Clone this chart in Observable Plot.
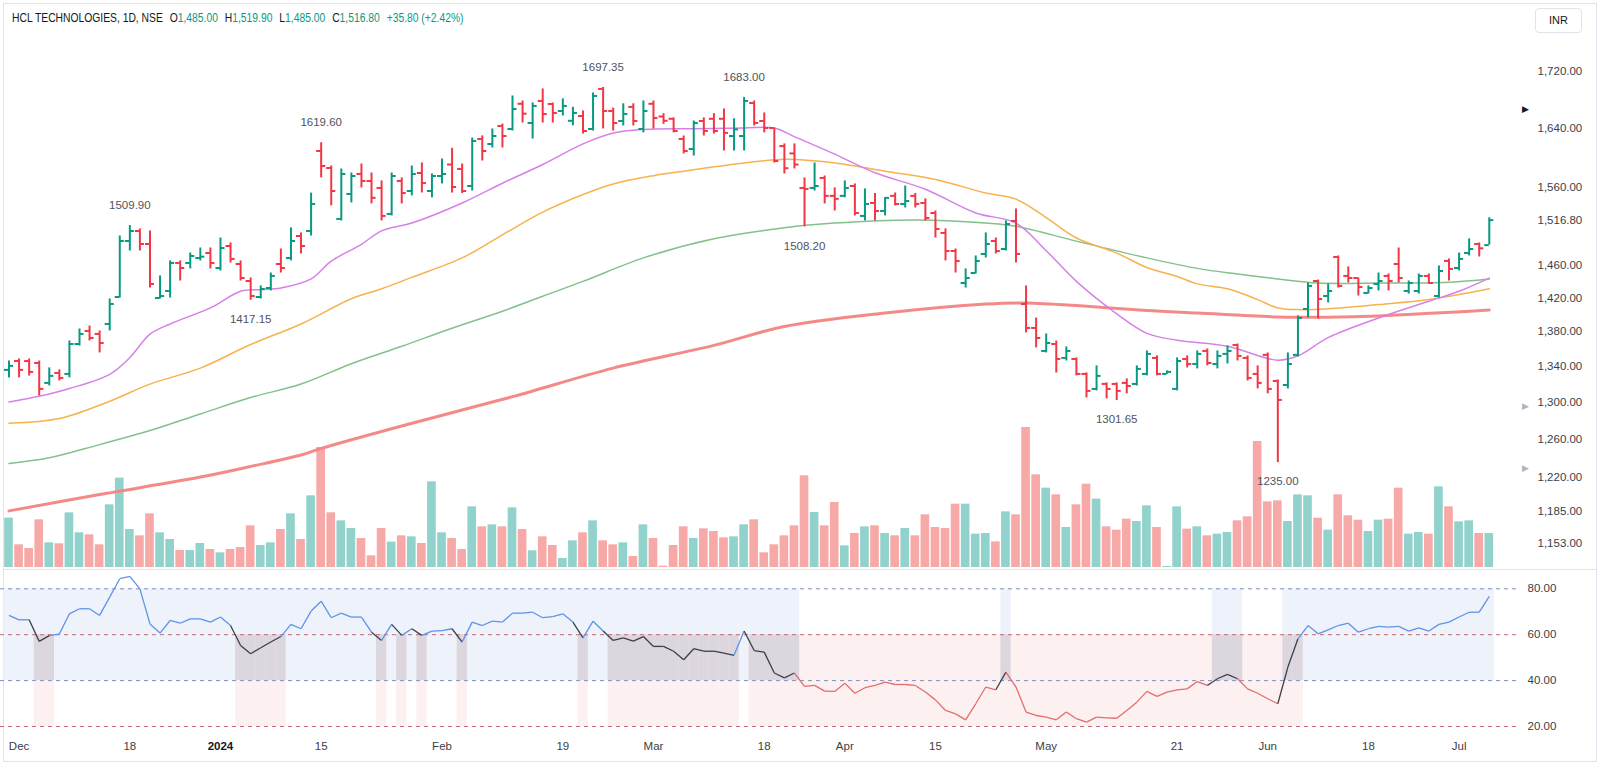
<!DOCTYPE html>
<html>
<head>
<meta charset="utf-8">
<title>HCL Technologies 1D NSE</title>
<script src="https://cdn.jsdelivr.net/npm/d3@7"></script>
<script src="https://cdn.jsdelivr.net/npm/@observablehq/plot@0.6"></script>
<style>
  html, body { margin: 0; padding: 0; background: #ffffff; }
  #wrap { position: relative; width: 1600px; height: 767px; overflow: hidden; background: #fff;
          font-family: "Liberation Sans", Arial, sans-serif; }
  #wrap > svg { position: absolute; left: 0; }
  #frame { position: absolute; left: 3px; top: 3px; width: 1594px; height: 759px; box-sizing: border-box;
           border: 1px solid #e0e3eb; pointer-events: none; }
  #sep { position: absolute; left: 3px; top: 569px; width: 1594px; height: 1px; background: #e0e3eb; }
  #hdr { position: absolute; left: 12px; top: 11px; font-family: "Liberation Sans", Arial, sans-serif;
         font-size: 12px; color: #131722; white-space: nowrap; transform: scaleX(0.86); transform-origin: 0 50%; }
  #hdr .v { color: #089981; }
  #hdr .g { margin-left: 8px; }
  #inr { position: absolute; left: 1535px; top: 8px; width: 47px; height: 25px; box-sizing: border-box;
         border: 1px solid #e0e3eb; border-radius: 4px; font-size: 11px; color: #131722; text-align: center; line-height: 23px; }
</style>
</head>
<body>
<div id="wrap">
  <div id="frame"></div>
  <div id="sep"></div>
  <div id="hdr"></div>
  <div id="inr">INR</div>
</div>
<script>
// ---- Data: bar index 0 = 30 Nov 2023 ... index 147 = last bar (Jul 2024) ----
const opens = [
1336.0,1346.1,1346.0,1343.8,1321.3,1332.5,1331.4,1365.6,1380.8,1377.3,
1389.0,1421.1,1490.2,1502.9,1486.4,1419.9,1428.4,1462.7,1462.7,1468.9,
1475.1,1456.5,1483.9,1461.4,1440.5,1421.1,1432.0,1461.4,1468.9,1496.5,
1502.9,1608.3,1585.3,1518.3,1550.8,1577.3,1568.0,1558.7,1524.8,1568.0,
1554.7,1578.6,1554.7,1574.6,1590.0,1584.0,1561.3,1624.8,1617.9,1642.7,
1638.6,1674.0,1646.9,1678.0,1673.7,1663.8,1650.0,1656.7,1638.6,1695.2,
1663.8,1649.7,1669.5,1638.6,1674.0,1656.0,1652.8,1624.8,1611.0,1649.7,
1652.8,1652.8,1628.9,1628.9,1675.1,1649.7,1640.0,1615.0,1605.0,1558.7,
1558.7,1572.0,1548.3,1548.3,1561.3,1522.2,1539.0,1528.6,1548.3,1537.7,
1548.3,1539.0,1526.0,1500.4,1477.6,1438.1,1450.3,1473.9,1490.2,1480.1,
1515.7,1412.7,1384.3,1357.6,1365.6,1349.6,1348.4,1331.4,1314.6,1320.2,
1320.2,1321.3,1320.2,1331.4,1349.6,1331.4,1314.6,1348.4,1342.7,1357.6,
1342.7,1354.2,1364.5,1349.6,1331.4,1353.1,1323.5,1319.0,1353.1,1406.8,
1440.5,1422.3,1470.1,1446.7,1444.2,1426.0,1436.9,1446.7,1461.4,1428.4,
1428.4,1446.7,1422.3,1465.2,1456.5,1475.1,1486.4,1485.0];
const highs = [
1346.1,1348.4,1348.4,1346.0,1338.2,1336.0,1369.1,1383.1,1386.6,1380.8,
1418.7,1496.5,1509.9,1505.5,1502.9,1446.7,1465.2,1465.2,1475.1,1481.4,
1481.4,1494.0,1487.7,1465.2,1444.2,1434.5,1450.3,1480.1,1506.8,1500.4,
1551.9,1619.6,1588.0,1584.0,1578.6,1590.7,1578.6,1568.0,1578.6,1572.0,
1588.0,1592.0,1577.3,1597.4,1612.0,1590.7,1626.1,1629.0,1638.6,1645.5,
1685.1,1678.0,1675.1,1695.2,1675.1,1680.9,1669.0,1663.8,1689.4,1697.35,
1667.9,1674.0,1674.0,1678.0,1678.0,1660.0,1654.1,1628.9,1649.7,1654.1,
1660.0,1666.6,1652.8,1683.0,1678.0,1661.0,1640.0,1618.0,1618.0,1572.0,
1592.0,1574.6,1558.7,1568.0,1564.0,1557.4,1551.4,1545.7,1552.1,1561.3,
1551.4,1544.4,1528.6,1505.5,1480.1,1455.3,1471.4,1500.4,1494.0,1515.7,
1531.2,1434.5,1396.0,1377.3,1369.1,1362.2,1349.6,1332.5,1340.5,1321.3,
1321.3,1325.8,1340.5,1357.6,1351.9,1334.8,1349.6,1351.9,1357.6,1359.9,
1357.6,1363.3,1365.6,1351.9,1340.5,1355.3,1324.7,1355.3,1398.5,1438.1,
1441.7,1436.9,1471.4,1457.8,1444.2,1434.5,1450.3,1449.1,1481.4,1440.5,
1449.1,1449.1,1459.0,1467.7,1475.1,1492.8,1487.7,1519.9];
const lows = [
1326.9,1326.9,1329.0,1306.8,1317.9,1323.5,1327.0,1363.3,1369.1,1355.3,
1380.8,1419.9,1477.6,1477.6,1432.0,1418.7,1419.9,1440.5,1455.3,1465.2,
1455.3,1452.8,1462.7,1440.5,1417.15,1418.7,1428.4,1450.3,1465.2,1473.9,
1496.5,1572.0,1535.2,1515.7,1539.0,1558.7,1537.7,1515.7,1522.2,1537.7,
1548.3,1552.1,1545.7,1564.0,1552.0,1551.4,1554.7,1594.7,1612.4,1612.4,
1635.8,1646.9,1624.7,1646.9,1646.9,1656.7,1643.0,1631.6,1635.8,1638.6,
1635.8,1642.8,1642.8,1633.2,1638.6,1645.0,1633.2,1604.2,1601.5,1628.9,
1631.6,1608.3,1608.3,1608.3,1642.8,1633.2,1592.0,1577.3,1584.0,1508.2,
1554.7,1537.7,1528.6,1545.7,1522.2,1515.7,1515.7,1522.2,1535.1,1532.5,
1532.5,1515.7,1494.0,1465.2,1450.3,1432.0,1449.1,1468.9,1473.9,1477.6,
1462.7,1378.5,1361.1,1355.3,1332.5,1346.1,1329.2,1304.6,1312.4,1303.5,
1301.65,1309.1,1317.9,1329.2,1329.2,1331.0,1312.4,1338.2,1337.1,1340.5,
1337.1,1342.7,1346.1,1323.5,1314.6,1309.1,1235.0,1314.6,1350.7,1396.1,
1394.9,1413.9,1432.0,1438.1,1422.3,1424.7,1428.4,1428.4,1438.1,1424.7,
1424.7,1436.9,1419.9,1440.5,1452.8,1471.4,1470.1,1485.0];
const closes = [
1340.5,1336.0,1333.7,1314.6,1329.2,1326.9,1365.6,1377.3,1372.6,1366.8,
1412.7,1490.2,1502.9,1486.4,1436.9,1422.3,1462.7,1456.5,1471.4,1470.5,
1462.7,1481.4,1467.7,1444.2,1422.3,1430.8,1446.7,1456.5,1490.2,1483.9,
1537.7,1588.0,1554.7,1577.3,1574.6,1568.0,1545.7,1522.2,1574.6,1552.1,
1577.3,1565.3,1574.6,1577.3,1560.0,1554.7,1622.0,1608.3,1628.9,1628.9,
1666.6,1660.0,1670.9,1659.5,1661.0,1670.9,1661.0,1635.8,1685.1,1663.8,
1646.9,1659.6,1649.7,1663.8,1654.0,1650.0,1635.8,1608.3,1646.9,1635.8,
1635.8,1633.2,1638.0,1678.0,1646.9,1640.0,1594.7,1585.0,1590.0,1557.4,
1561.3,1548.3,1544.4,1558.7,1526.0,1537.7,1528.6,1545.7,1537.7,1541.6,
1537.7,1519.6,1505.5,1477.6,1465.2,1444.2,1465.2,1486.4,1477.6,1511.8,
1473.9,1384.3,1372.6,1366.8,1348.4,1357.6,1331.4,1312.4,1329.2,1314.6,
1312.4,1317.9,1337.1,1354.2,1331.4,1333.7,1346.1,1342.7,1354.2,1343.8,
1351.9,1357.6,1351.9,1326.9,1321.3,1314.6,1302.4,1342.7,1396.1,1434.5,
1418.7,1428.4,1434.5,1444.2,1433.2,1432.0,1440.5,1440.5,1444.2,1438.1,
1446.7,1438.1,1452.8,1455.3,1467.7,1480.1,1481.0,1516.8];
// volume, millions of shares
const volumes = [
2.96,1.36,1.14,2.86,1.48,1.42,3.28,2.08,1.96,1.36,
3.76,5.36,2.28,1.90,3.22,2.08,1.68,1.02,1.02,1.44,
1.08,0.88,1.08,1.20,2.50,1.32,1.48,2.28,3.22,1.68,
4.30,7.20,3.28,2.80,2.34,1.74,0.70,2.34,1.52,1.90,
1.84,1.44,5.14,2.08,1.74,1.08,3.64,2.44,2.56,2.44,
3.58,2.28,1.00,1.84,1.32,0.54,1.60,2.08,2.80,1.60,
1.36,1.48,0.66,2.56,1.74,0.08,1.32,2.44,1.74,2.32,
2.16,1.78,1.84,2.56,2.86,0.88,1.36,1.90,2.50,5.50,
3.30,2.50,3.90,1.30,2.04,2.44,2.50,2.04,1.90,2.34,
1.90,3.16,2.40,2.34,3.80,3.80,2.00,2.04,1.54,3.34,
3.16,8.40,5.56,4.76,4.36,2.40,3.76,5.00,4.10,2.44,
2.24,2.90,2.76,3.70,2.40,0.06,3.64,2.30,2.44,1.90,
2.00,2.10,2.80,3.04,7.56,3.94,4.00,2.76,4.36,4.30,
2.96,2.24,4.36,3.10,2.84,2.16,2.84,2.90,4.76,2.00,
2.10,2.00,4.84,3.64,2.74,2.80,2.04,2.04];
const rsi = [
68.4,66.5,66.5,57.1,59.6,60.3,69.1,71.3,71.3,68.4,
76.4,84.4,85.4,80.0,64.7,60.7,66.2,65.0,66.9,66.9,
65.5,67.7,64.0,55.3,51.7,54.3,56.8,59.2,64.5,62.6,
70.3,74.6,67.4,69.4,67.7,67.7,61.1,57.5,64.5,59.7,
62.6,59.7,61.6,61.8,62.6,56.8,65.5,64.0,65.9,65.5,
69.4,69.4,69.8,67.4,67.9,69.1,65.5,58.6,65.9,61.6,
57.5,58.6,57.2,59.2,54.9,54.9,52.8,49.1,53.9,52.8,
52.8,52.0,51.0,61.6,53.1,52.4,43.3,41.2,43.3,37.5,
37.9,35.4,35.3,38.9,34.5,36.9,37.9,39.3,38.3,38.3,
37.9,35.0,31.6,27.0,25.5,22.9,29.9,37.2,36.0,43.7,
37.2,26.3,24.8,24.1,22.9,26.3,23.4,21.9,24.1,23.8,
23.6,27.0,30.6,35.3,33.1,35.0,36.0,36.4,39.6,37.9,
40.8,42.7,40.8,36.4,34.5,32.1,29.9,45.9,58.2,64.0,
60.4,62.1,64.0,65.0,61.1,62.6,63.6,63.3,63.6,61.6,
63.0,61.6,64.5,65.5,67.7,69.8,69.8,76.7];

// moving averages (bar index, value)
const maVioletIdx = [0,4,6,10,12,14,16,20,23,25,27,30,32,35,37,40,45,49,53,57,60,63,68,73,76,78,82,86,91,96,100,103,106,110,113,116,121,126,128,131,136,141,144,147];
const maViolet    = [1300,1309,1315,1331,1350,1377,1389,1408,1428,1430,1432,1443,1465,1486,1503,1513,1539,1565,1590,1618,1633,1638,1639,1640,1640,1628,1604,1579,1557,1526,1513,1478,1440,1401,1378,1370,1363,1347,1352,1373,1396,1416,1428,1444];
const maOrangeIdx = [0,5,10,14,19,24,29,34,37,40,45,49,53,57,60,64,67,73,77,82,87,92,97,100,103,106,110,113,116,118,121,124,126,128,131,136,141,147];
const maOrange    = [1277,1282,1301,1320,1338,1365,1389,1419,1431,1445,1469,1498,1527,1550,1564,1575,1581,1592,1597,1592,1581,1570,1552,1544,1520,1494,1475,1457,1446,1437,1431,1418,1408,1406,1407,1412,1418,1431];
const maGreenIdx  = [0,4,9,14,19,24,29,34,39,44,49,53,57,63,70,77,82,90,97,100,106,113,118,122,126,130,136,143,147];
const maGreen     = [1234,1240,1254,1269,1287,1305,1320,1343,1363,1384,1404,1422,1440,1469,1493,1507,1513,1517,1513,1509,1490,1469,1456,1449,1443,1438,1438,1439,1443];
const maRedIdx    = [0,9,19,24,29,31,39,50,60,70,77,87,97,101,107,113,118,126,131,136,147];
const maRed       = [1185.5,1202,1220,1231,1243,1250,1274,1306,1338,1364,1386,1402,1412.7,1414,1410,1405,1402,1397.3,1397,1398.5,1405.5];

// swing high / low labels
const swingIdx  = [12, 24, 31, 59, 73, 79, 110, 126];
const swingSide = ["high","low","high","high","high","low","low","low"];

// price-scale ticks and date ticks
const priceTicks = [1720, 1640, 1560, 1516.8, 1460, 1420, 1380, 1340, 1300, 1260, 1220, 1185, 1153];
const rsiTicks = [80, 60, 40, 20];
const dateTickIdx = [1, 12, 21, 31, 43, 55, 64, 75, 83, 92, 103, 116, 125, 135, 144];
const dateTickLabels = ["Dec","18","2024","15","Feb","19","Mar","18","Apr","15","May","21","Jun","18","Jul"];
const scaleMarkPrices = [1666.3, 1295.8, 1229.5];
const scaleMarkColors = ["#131722", "#b2b5be", "#b2b5be"];

// ---- build ----
const N = closes.length;
const UP = "#089981", DN = "#f23645";
const bars = closes.map((c, i) => ({i, o: opens[i], h: highs[i], l: lows[i], c, v: volumes[i], up: c >= opens[i]}));
const zip = (ix, vals) => ix.map((i, k) => ({i, v: vals[k]}));
const W = 1600, MR = 80, PH = 568;
const xDomain = [-0.844, 150.1];
const fmtP = d3.format(",.2f");
const font = '"Liberation Sans", Arial, sans-serif';

const volPlot = Plot.plot({
  width: W, height: PH, marginLeft: 0, marginRight: MR, marginTop: 0, marginBottom: 1,
  x: {domain: xDomain, axis: null},
  y: {domain: [0, 34.02], axis: null},
  style: {background: "transparent"},
  marks: [
    Plot.rect(bars, {x1: d => d.i - 0.43, x2: d => d.i + 0.43, y1: 0, y2: "v",
      fill: d => d.up ? "#92d2cc" : "#f7a9a7"})
  ]
});

const swings = swingIdx.map((i, k) => ({i, side: swingSide[k], p: swingSide[k] === "high" ? highs[i] : lows[i]}));

const pricePlot = Plot.plot({
  width: W, height: PH, marginLeft: 0, marginRight: MR, marginTop: 0, marginBottom: 0,
  x: {domain: xDomain, axis: null},
  y: {type: "log", domain: [1129.0, 1827.1], axis: null},
  style: {background: "transparent", fontFamily: font, fontSize: "11.5px", color: "#3b3e45"},
  marks: [
    Plot.line(zip(maRedIdx, maRed), {x: "i", y: "v", stroke: "#f28482", strokeWidth: 3, curve: "catmull-rom", strokeOpacity: 0.95}),
    Plot.line(zip(maGreenIdx, maGreen), {x: "i", y: "v", stroke: "#84c08a", strokeWidth: 1.5, curve: "catmull-rom"}),
    Plot.line(zip(maOrangeIdx, maOrange), {x: "i", y: "v", stroke: "#f7b24e", strokeWidth: 1.5, curve: "catmull-rom"}),
    Plot.line(zip(maVioletIdx, maViolet), {x: "i", y: "v", stroke: "#d681e8", strokeWidth: 1.5, curve: "catmull-rom"}),
    Plot.ruleX(bars, {x: "i", y1: "l", y2: "h", stroke: d => d.up ? UP : DN, strokeWidth: 2}),
    Plot.ruleY(bars, {y: "o", x1: d => d.i - 0.45, x2: "i", stroke: d => d.up ? UP : DN, strokeWidth: 2}),
    Plot.ruleY(bars, {y: "c", x1: "i", x2: d => d.i + 0.45, stroke: d => d.up ? UP : DN, strokeWidth: 2}),
    Plot.text(swings.filter(d => d.side === "high"), {x: "i", y: "p", text: d => d.p.toFixed(2), dy: -20, fill: "#50535e", fontSize: 11.5}),
    Plot.text(swings.filter(d => d.side === "low"), {x: "i", y: "p", text: d => d.p.toFixed(2), dy: 19, fill: "#50535e", fontSize: 11.5}),
    Plot.axisY({anchor: "right", ticks: priceTicks, tickFormat: fmtP, tickSize: 0, tickPadding: 17, fontSize: 11.5}),
    Plot.text(scaleMarkPrices.map((p, k) => ({p, c: scaleMarkColors[k]})), {y: "p", frameAnchor: "right", dx: 8, text: d => "\u25B6", fill: "c", fontSize: 9})
  ]
});

const rsiRows = rsi.map((r, i) => ({i, r}));
const segs = d3.range(1, N).map(i => ({x1: i - 1, y1: rsi[i - 1], x2: i, y2: rsi[i],
  c: rsi[i] > 60 ? "#5f93e8" : rsi[i] < 40 ? "#e36d6d" : "#3d3f46"}));
const dateRows = dateTickIdx.map((i, k) => ({i, label: dateTickLabels[k]}));

const rsiPlot = Plot.plot({
  width: W, height: 199, marginLeft: 0, marginRight: MR, marginTop: 0, marginBottom: 32,
  x: {domain: xDomain, axis: null},
  y: {domain: [16.08, 88.85], axis: null},
  style: {background: "transparent", fontFamily: font, fontSize: "11.5px", color: "#3b3e45"},
  marks: [
    Plot.rect(rsiRows.filter(d => d.r > 40), {x1: d => d.i - 0.5, x2: d => d.i + 0.52, y1: 40, y2: 80, fill: "#eef2fb"}),
    Plot.rect(rsiRows.filter(d => d.r < 60), {x1: d => d.i - 0.5, x2: d => d.i + 0.52, y1: 20, y2: 60, fill: "#fdf0f0"}),
    Plot.rect(rsiRows.filter(d => d.r > 40 && d.r < 60), {x1: d => d.i - 0.5, x2: d => d.i + 0.52, y1: 40, y2: 60, fill: "#dcd6df"}),
    Plot.ruleY([80, 40], {stroke: "#7f8fc4", strokeDasharray: "4,4"}),
    Plot.ruleY([60, 20], {stroke: "#cc6670", strokeDasharray: "4,4"}),
    Plot.link(segs, {x1: "x1", y1: "y1", x2: "x2", y2: "y2", stroke: "c", strokeWidth: 1.3}),
    Plot.axisY({anchor: "right", ticks: rsiTicks, tickFormat: d3.format(".2f"), tickSize: 0, tickPadding: 7, fontSize: 11.5}),
    Plot.text(dateRows.filter(d => d.label !== "2024"), {x: "i", text: "label", frameAnchor: "bottom", dy: 14, fill: "#3b3e45", fontSize: 11.5}),
    Plot.text(dateRows.filter(d => d.label === "2024"), {x: "i", text: "label", frameAnchor: "bottom", dy: 14, fill: "#131722", fontSize: 11.5, fontWeight: "bold"})
  ]
});

const wrap = document.getElementById("wrap");
volPlot.style.top = "0px";
pricePlot.style.top = "0px";
rsiPlot.style.top = PH + "px";
wrap.insertBefore(volPlot, document.getElementById("hdr"));
wrap.insertBefore(pricePlot, document.getElementById("hdr"));
wrap.insertBefore(rsiPlot, document.getElementById("hdr"));

// header built from the last bar
const L = N - 1;
const chg = closes[L] - closes[L - 1];
const pct = chg / closes[L - 1] * 100;
document.getElementById("hdr").innerHTML =
  `<span>HCL TECHNOLOGIES, 1D, NSE</span>` +
  `<span class="g">O</span><span class="v">${fmtP(opens[L])}</span>` +
  `<span class="g">H</span><span class="v">${fmtP(highs[L])}</span>` +
  `<span class="g">L</span><span class="v">${fmtP(lows[L])}</span>` +
  `<span class="g">C</span><span class="v">${fmtP(closes[L])}</span>` +
  `<span class="g v">${chg >= 0 ? "+" : ""}${chg.toFixed(2)} (${pct >= 0 ? "+" : ""}${pct.toFixed(2)}%)</span>`;
</script>
</body>
</html>
